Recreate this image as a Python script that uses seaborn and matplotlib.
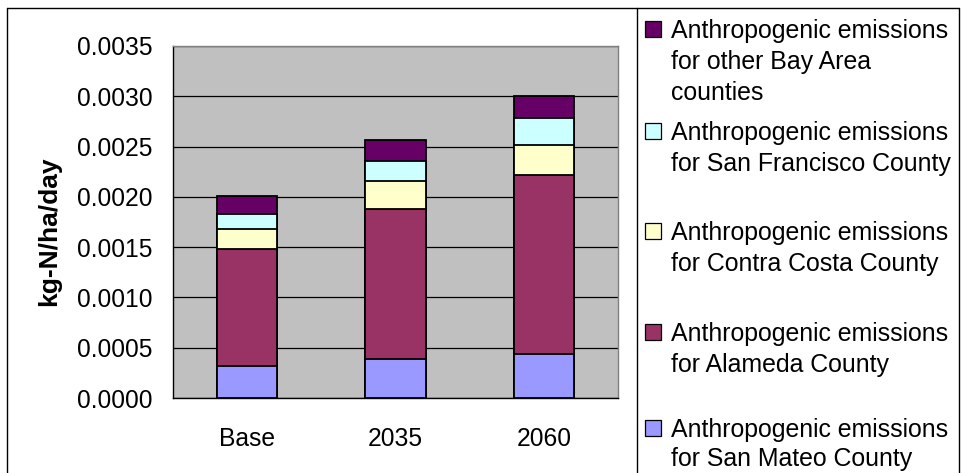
import matplotlib
matplotlib.use("Agg")
import matplotlib.pyplot as plt
import seaborn as sns
import numpy as np
import pandas as pd
from matplotlib.patches import Rectangle
from matplotlib.lines import Line2D
from matplotlib.ticker import FormatStrFormatter, FixedLocator

# ---- data ----
categories = ["Base", "2035", "2060"]
san_mateo = [0.00032, 0.00039, 0.00044]
alameda = [0.00116, 0.00149, 0.00178]
contra_costa = [0.00020, 0.00028, 0.00030]
san_francisco = [0.00015, 0.00020, 0.00026]
other_bay_area = [0.00018, 0.00021, 0.00022]

series_names = [
    "Anthropogenic emissions\nfor San Mateo County",
    "Anthropogenic emissions\nfor Alameda County",
    "Anthropogenic emissions\nfor Contra Costa County",
    "Anthropogenic emissions\nfor San Francisco County",
    "Anthropogenic emissions\nfor other Bay Area\ncounties",
]
series_values = [san_mateo, alameda, contra_costa, san_francisco, other_bay_area]
series_colors = ["#9999FF", "#993366", "#FFFFCC", "#CCFFFF", "#660066"]
y_ticks = [0.0, 0.0005, 0.0010, 0.0015, 0.0020, 0.0025, 0.0030, 0.0035]
y_label = "kg-N/ha/day"

# ---- style ----
sns.set_style("white")
plt.rcParams["font.family"] = ["Liberation Sans", "DejaVu Sans"]
plt.rcParams["text.color"] = "black"
plt.rcParams["axes.labelcolor"] = "black"
plt.rcParams["xtick.color"] = "black"
plt.rcParams["ytick.color"] = "black"

W, H = 963, 473
fig = plt.figure(figsize=(W / 100, H / 100), dpi=100)

def fx(px):
    return px / W

def fy(py):
    return 1 - py / H

ax_l, ax_r, ax_t, ax_b = 173, 618, 46, 398
ax = fig.add_axes([fx(ax_l), fy(ax_b), fx(ax_r - ax_l), (ax_b - ax_t) / H])
ax.set_facecolor("#C0C0C0")

# stacked bars: draw cumulative totals from top series down
df = pd.DataFrame({"category": categories})
cum = np.cumsum(np.array(series_values), axis=0)
for i in range(len(series_values) - 1, -1, -1):
    df["value"] = cum[i]
    sns.barplot(data=df, x="category", y="value", color=series_colors[i],
                saturation=1, width=0.405, edgecolor="black", linewidth=1.3,
                ax=ax, zorder=3)

ax.set_ylim(0, 0.0035)
ax.set_xlim(-0.5, 2.5)
ax.set_yticks(y_ticks)
ax.yaxis.set_major_formatter(FormatStrFormatter("%.4f"))
ax.yaxis.grid(True, color="black", linewidth=0.9)
ax.set_axisbelow(True)
ax.set_xlabel("")
ax.set_ylabel("")

# x ticks at category boundaries, labels at centers
ax.xaxis.set_major_locator(FixedLocator([-0.5, 0.5, 1.5, 2.5]))
ax.xaxis.set_major_formatter(plt.NullFormatter())
ax.xaxis.set_minor_locator(FixedLocator(range(len(categories))))
ax.set_xticklabels(categories, minor=True)
ax.tick_params(axis="x", which="major", length=6.5, width=0.9, color="black", direction="out")
ax.tick_params(axis="x", which="minor", length=0, pad=21, labelsize=17.7)
ax.tick_params(axis="y", length=6, width=0.9, color="black", direction="out", pad=8.5, labelsize=17.7)
ax.tick_params(axis="both", which="both", labelcolor="black")

for s in ["left", "bottom"]:
    ax.spines[s].set_color("black")
    ax.spines[s].set_linewidth(1.0)
for s in ["top", "right"]:
    ax.spines[s].set_color("#808080")
    ax.spines[s].set_linewidth(1.0)

# y label
fig.text(fx(49), fy(231), y_label, rotation=90, ha="center", va="center",
         fontsize=19, fontweight="bold", color="black")

# outer chart border and legend box
fig.add_artist(Line2D([fx(7), fx(959)], [fy(8), fy(8)], color="black", lw=1.0))
fig.add_artist(Line2D([fx(7), fx(7)], [fy(8), 0], color="black", lw=1.0))
fig.add_artist(Line2D([fx(637), fx(637)], [fy(8), 0], color="black", lw=1.0))
fig.add_artist(Line2D([fx(959), fx(959)], [fy(8), 0], color="black", lw=1.0))

# manual legend (reverse order: top series first)
baselines = [38, 140, 240, 341, 437]
line_steps = [31, 31, 31, 31, 29]
for k, i in enumerate(range(len(series_names) - 1, -1, -1)):
    b = baselines[k]
    fig.add_artist(Rectangle((fx(645), fy(b - 1)), fx(16), 16 / H,
                             facecolor=series_colors[i], edgecolor="black",
                             lw=0.9, transform=fig.transFigure))
    for j, line in enumerate(series_names[i].split("\n")):
        fig.text(fx(671), fy(b + line_steps[k] * j), line, ha="left",
                 va="baseline", fontsize=17.9, color="black")

fig.savefig("out.png", dpi=100)
